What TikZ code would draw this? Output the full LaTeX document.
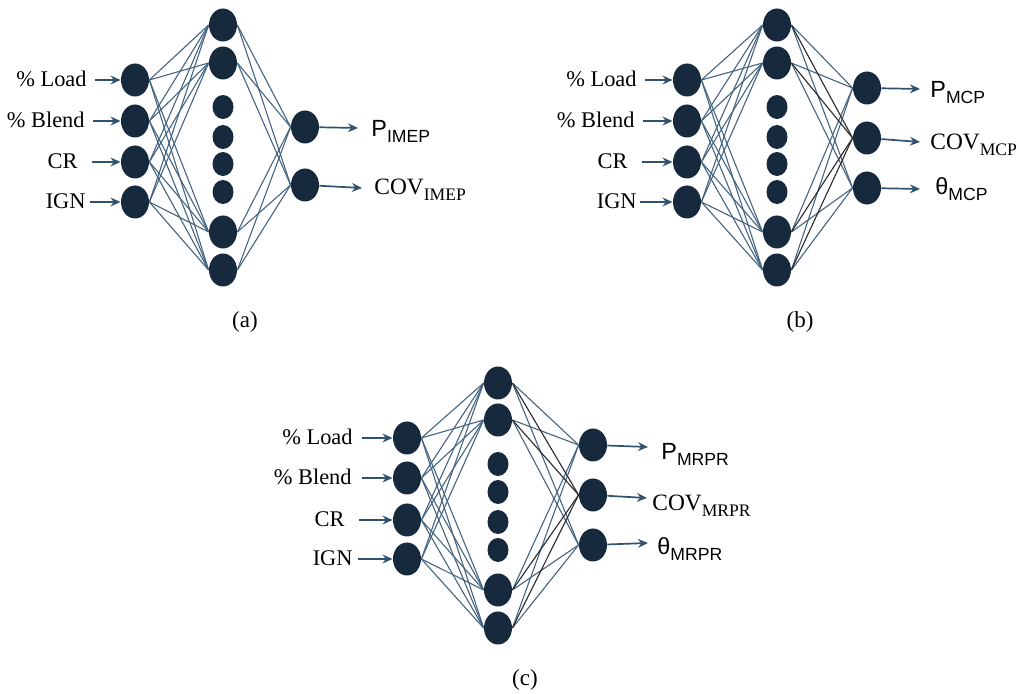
\documentclass[tikz,border=0pt]{standalone}
\usepackage{fontspec}
\setmainfont{Liberation Serif}
\newfontfamily\arialfont{Liberation Sans}
\usetikzlibrary{shapes.geometric,arrows.meta}
\definecolor{nodeNavy}{RGB}{22,41,61}
\definecolor{linkBlue}{RGB}{68,100,128}
\definecolor{linkDark}{RGB}{40,40,46}
\definecolor{arrowBlue}{RGB}{48,82,110}
\newcommand\lowsub[1]{\raisebox{-3pt}{\fontsize{8.8}{10}\selectfont #1}}
\tikzset{
  neuron/.style={ellipse,fill=nodeNavy,minimum width=14pt,minimum height=16.5pt,inner sep=0pt},
  dotn/.style={ellipse,fill=nodeNavy,minimum width=10.5pt,minimum height=12pt,inner sep=0pt},
  link/.style={draw=linkBlue,line width=0.55pt},
  dlink/.style={draw=linkDark,line width=0.55pt},
  arr/.style={-{Stealth[length=5pt,width=4.4pt]},line width=0.85pt,arrowBlue},
  inlbl/.style={anchor=base east,font=\fontsize{11.2}{13}\selectfont,inner sep=0pt},
  outlbl/.style={anchor=base west,font=\fontsize{11.7}{14}\selectfont,inner sep=0pt},
  sublbl/.style={font=\fontsize{11.5}{13}\selectfont,inner sep=0pt},
}

\begin{document}
\begin{tikzpicture}[x=0.5pt,y=-0.5pt]
  \useasboundingbox (0,0) rectangle (1019,694);

  % (a) IMEP network
  \begin{scope}[shift={(135,80)}]
    \foreach \y/\s/\r/\t [count=\i] in {0/-40/-48/{\% Load},41/-42/-50/{\% Blend},82/-43/-57/CR,122/-45/-49/IGN}{
      \node[neuron] (a-in\i) at (0,\y) {};
      \coordinate (a-s\i) at (\s,\y);
      \node[inlbl] (a-l\i) at (\r,\y+7) {\t};
      \draw[arr] (a-s\i) -- (a-in\i);
    }
    \foreach \y [count=\j] in {-55,-17,152,190} \node[neuron] (a-h\j) at (88,\y) {};
    \foreach \y [count=\j] in {27,57,84,112} \node[dotn] (a-d\j) at (88,\y) {};
    \foreach \y [count=\k] in {47,105} \node[neuron] (a-out\k) at (170,\y) {};
    \foreach \i in {1,...,4} \foreach \j in {1,...,4} \draw[link] (a-in\i.east) -- (a-h\j.west);
    \foreach \j in {1,...,4} \foreach \k in {1,2} \draw[link] (a-h\j.east) -- (a-out\k.west);
    \coordinate (a-t1) at (223,48);
    \coordinate (a-t2) at (227,108);
    \draw[arr] (a-out1) -- (a-t1);
    \draw[arr] (a-out2) -- (a-t2);
    \node[outlbl] (a-o1) at (236,57) {\arialfont P\lowsub{IMEP}};
    \node[outlbl] (a-o2) at (239,115) {COV\lowsub{IMEP}};
  \end{scope}

  % (b) MCP network
  \begin{scope}[shift={(687,80)}]
    \foreach \y/\s/\r/\t [count=\i] in {0/-42/-50/{\% Load},41/-44/-52/{\% Blend},82/-45/-59/CR,122/-47/-50/IGN}{
      \node[neuron] (b-in\i) at (0,\y) {};
      \coordinate (b-s\i) at (\s,\y);
      \node[inlbl] (b-l\i) at (\r,\y+7) {\t};
      \draw[arr] (b-s\i) -- (b-in\i);
    }
    \foreach \y [count=\j] in {-55,-17,152,190} \node[neuron] (b-h\j) at (90,\y) {};
    \foreach \y [count=\j] in {27,57,84,112} \node[dotn] (b-d\j) at (90,\y) {};
    \foreach \y [count=\k] in {8,58,108} \node[neuron] (b-out\k) at (180,\y) {};
    \foreach \i in {1,...,4} \foreach \j in {1,...,4} \draw[link] (b-in\i.east) -- (b-h\j.west);
    \foreach \j in {1,...,4} \foreach \k in {1,3} \draw[link] (b-h\j.east) -- (b-out\k.west);
    \foreach \j in {1,...,4} \draw[dlink] (b-h\j.east) -- (b-out2.west);
    \coordinate (b-t1) at (233,9);
    \coordinate (b-t2) at (233,62);
    \coordinate (b-t3) at (233,109);
    \foreach \k in {1,2,3} \draw[arr] (b-out\k) -- (b-t\k);
    \node[outlbl] (b-o1) at (243,18) {\arialfont P\lowsub{MCP}};
    \node[outlbl] (b-o2) at (243,70) {COV\lowsub{MCP}};
    \node[outlbl] (b-o3) at (248,115) {\arialfont θ\lowsub{MCP}};
  \end{scope}

  % (c) MRPR network
  \begin{scope}[shift={(407,438)}]
    \foreach \y/\s/\r/\t [count=\i] in {0/-45/-54/{\% Load},40/-45/-55/{\% Blend},82/-48/-62/CR,121/-49/-54/IGN}{
      \node[neuron] (c-in\i) at (0,\y) {};
      \coordinate (c-s\i) at (\s,\y);
      \node[inlbl] (c-l\i) at (\r,\y+7) {\t};
      \draw[arr] (c-s\i) -- (c-in\i);
    }
    \foreach \y [count=\j] in {-55,-18,152,190} \node[neuron] (c-h\j) at (91,\y) {};
    \foreach \y [count=\j] in {26,54,84,112} \node[dotn] (c-d\j) at (91,\y) {};
    \foreach \y [count=\k] in {7,57,107} \node[neuron] (c-out\k) at (186,\y) {};
    \foreach \i in {1,...,4} \foreach \j in {1,...,4} \draw[link] (c-in\i.east) -- (c-h\j.west);
    \foreach \j in {1,...,4} \foreach \k in {1,3} \draw[link] (c-h\j.east) -- (c-out\k.west);
    \foreach \j in {1,...,4} \draw[dlink] (c-h\j.east) -- (c-out2.west);
    \coordinate (c-t1) at (241,9);
    \coordinate (c-t2) at (240,60);
    \coordinate (c-t3) at (241,105);
    \foreach \k in {1,2,3} \draw[arr] (c-out\k) -- (c-t\k);
    \node[outlbl] (c-o1) at (254,22) {\arialfont P\lowsub{MRPR}};
    \node[outlbl] (c-o2) at (245,73) {COV\lowsub{MRPR}};
    \node[outlbl] (c-o3) at (250,117) {\arialfont θ\lowsub{MRPR}};
  \end{scope}

  % captions
  \node[sublbl] (cap-a) at (245,322) {(a)};
  \node[sublbl] (cap-b) at (800,322) {(b)};
  \node[sublbl] (cap-c) at (525,680) {(c)};
\end{tikzpicture}
\end{document}
